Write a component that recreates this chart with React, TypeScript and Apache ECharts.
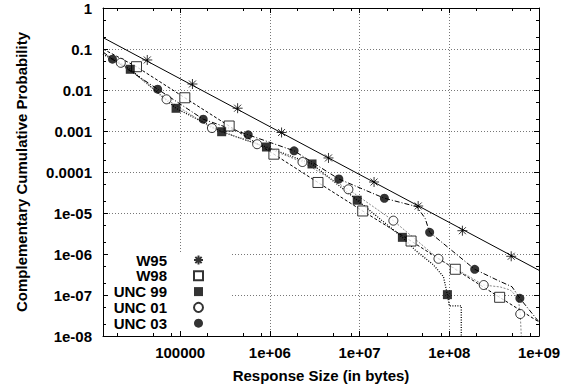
import React, { useEffect, useRef } from 'react';
import * as echarts from 'echarts';

const X_MIN = 13800;
const X_MAX = 1e9;
const Y_MIN = 1e-8;
const Y_MAX = 1;

const xTickExp = [5, 6, 7, 8, 9];
const xTickLabels = ['100000', '1e+06', '1e+07', '1e+08', '1e+09'];
const yTickExp = [0, -1, -2, -3, -4, -5, -6, -7, -8];
const yTickLabels = ['1', '0.1', '0.01', '0.001', '0.0001', '1e-05', '1e-06', '1e-07', '1e-08'];
const xMinorTicks = [2e4, 5e4, 8e4, 2e5, 5e5, 8e5, 2e6, 5e6, 8e6, 2e7, 5e7, 8e7, 2e8, 5e8, 8e8];
const yMinorTicks = [2e-8, 5e-8, 2e-7, 5e-7, 2e-6, 5e-6, 2e-5, 5e-5, 2e-4, 5e-4, 2e-3, 5e-3, 2e-2, 5e-2, 2e-1, 5e-1];

const seriesNames = ['W95', 'W98', 'UNC 99', 'UNC 01', 'UNC 03'];

// W95
const w95MarkX = [43000, 137000, 437000, 1350000, 4500000, 14500000, 45000000, 140000000, 490000000];
const w95MarkY = [0.054, 0.014, 0.0036, 0.00092, 0.00022, 0.000057, 0.0000148, 0.0000037, 0.00000088];
const w95LineX = [13800, 1000000000];
const w95LineY = [0.19, 0.0000004];

// W98
const w98MarkX = [32600, 112700, 351600, 1109000, 3436000, 10840000, 37500000, 116700000, 364000000];
const w98MarkY = [0.037, 0.00646, 0.001324, 0.000272, 0.0000555, 0.0000112, 0.00000207, 0.000000424, 0.0000000879];
const w98LineX = [13800, 32600, 112700, 351600, 1109000, 3436000, 10840000, 37500000, 116700000, 364000000, 1000000000];
const w98LineY = [0.1, 0.037, 0.00646, 0.001324, 0.000272, 0.0000555, 0.0000112, 0.00000207, 0.000000424, 0.0000000879, 0.000000022];

// UNC 99
const unc99MarkX = [27800, 90000, 290000, 916000, 2950000, 9420000, 30000000, 95300000];
const unc99MarkY = [0.032, 0.00358, 0.00096, 0.000407, 0.000157, 0.0000205, 0.00000255, 0.000000102];
const unc99LineX = [13800, 27800, 90000, 290000, 916000, 2950000, 9420000, 30000000, 41600000, 66700000, 86100000, 95300000, 100000000, 136000000, 136000000];
const unc99LineY = [0.075, 0.032, 0.00358, 0.00096, 0.000407, 0.000157, 0.0000205, 0.00000255, 0.00000125, 0.00000054, 0.000000279, 0.000000102, 0.000000054, 0.000000054, 0.000000001];

// UNC 01
const unc01MarkX = [21800, 70500, 226000, 721000, 2310000, 7500000, 23800000, 75700000, 242000000, 618000000];
const unc01MarkY = [0.046, 0.00593, 0.00118, 0.000476, 0.000175, 0.0000378, 0.0000065, 0.000000764, 0.000000175, 0.0000000344];
const unc01LineX = [13800, 21800, 70500, 226000, 721000, 2310000, 7500000, 23800000, 75700000, 242000000, 370000000, 479000000, 587000000, 618000000, 668000000];
const unc01LineY = [0.08, 0.046, 0.00593, 0.00118, 0.000476, 0.000175, 0.0000378, 0.0000065, 0.000000764, 0.000000175, 0.000000157, 0.000000132, 0.0000000845, 0.0000000344, 0.000000001];

// UNC 03
const unc03MarkX = [17600, 56100, 180700, 573000, 1860000, 5870000, 18900000, 60400000, 192000000, 612000000];
const unc03MarkY = [0.0564, 0.0105, 0.00194, 0.000807, 0.000329, 0.0000675, 0.0000229, 0.00000338, 0.000000424, 0.000000083];
const unc03LineX = [13800, 17600, 56100, 180700, 573000, 1860000, 5870000, 18900000, 43500000, 53800000, 60400000, 192000000, 340000000, 500000000, 612000000, 1000000000];
const unc03LineY = [0.085, 0.0564, 0.0105, 0.00194, 0.000807, 0.000329, 0.0000675, 0.0000229, 0.0000143, 0.0000074, 0.00000338, 0.000000424, 0.000000232, 0.000000159, 0.000000083, 0.000000022];

const FONT = 'Liberation Sans, Arial, Helvetica, sans-serif';
const textFont = { fontFamily: FONT, fontWeight: 'bold' as const, fontSize: 15, color: '#000' };
const ASTERISK = 'path://M5,0L5,10M0,5L10,5M1.5,1.5L8.5,8.5M8.5,1.5L1.5,8.5';

const pairs = (xs: number[], ys: number[]) => xs.map((x, i) => [x, ys[i]]);

export default function App() {
  const ref = useRef<HTMLDivElement>(null);
  useEffect(() => {
    if (!ref.current) return;
    const chart = echarts.init(ref.current, null, { renderer: 'svg' });

    const xFmt = (v: number) => {
      const e = Math.round(Math.log10(v));
      const i = xTickExp.indexOf(e);
      return i >= 0 ? xTickLabels[i] : '';
    };
    const yFmt = (v: number) => {
      const e = Math.round(Math.log10(v));
      const i = yTickExp.indexOf(e);
      return i >= 0 ? yTickLabels[i] : '';
    };

    const baseX = { type: 'log' as const, logBase: 10, min: X_MIN, max: X_MAX, gridIndex: 0 };
    const baseY = { type: 'log' as const, logBase: 10, min: Y_MIN, max: Y_MAX, gridIndex: 0 };
    const grid = { show: false, splitLine: { show: false } };
    const axLine = { show: true, lineStyle: { color: '#000', width: 1 } };
    const majTick = { show: true, inside: true, length: 5, lineStyle: { color: '#000', width: 1 } };
    const splitStyle = { show: true, lineStyle: { color: '#777', width: 1, type: [1, 2] } };

    const tickData: number[][] = [
      ...xMinorTicks.map((v) => [v, Y_MIN, 0]),
      ...yMinorTicks.map((v) => [X_MIN, v, 1]),
    ];

    const lineSeries = (name: string, xs: number[], ys: number[], style: any) => ({
      name: name + ' curve',
      type: 'line',
      data: pairs(xs, ys),
      symbol: 'none',
      clip: true,
      z: 2,
      lineStyle: style,
      silent: true,
    });
    const markSeries = (name: string, xs: number[], ys: number[], symbol: string, size: number, item: any) => ({
      name,
      type: 'scatter',
      data: pairs(xs, ys),
      symbol,
      symbolSize: size,
      itemStyle: item,
      z: 3,
      silent: true,
    });

    chart.setOption({
      animation: false,
      backgroundColor: '#fff',
      grid: { left: 103, right: 28, top: 8, bottom: 51, containLabel: false, outerBoundsMode: 'none' },
      xAxis: [
        { ...baseX, position: 'bottom', z: 0, axisLine: { show: false }, axisTick: { show: false }, axisLabel: { show: false }, splitLine: splitStyle },
        {
          ...baseX, position: 'bottom', z: 4, axisLine: axLine, axisTick: majTick,
          axisLabel: { show: true, margin: 9, formatter: xFmt, showMinLabel: false, showMaxLabel: true, ...textFont },
          splitLine: { show: false },
          name: 'Response Size (in bytes)', nameLocation: 'middle', nameGap: 32, nameTextStyle: textFont,
        },
        { ...baseX, position: 'top', z: 4, axisLine: axLine, axisTick: majTick, axisLabel: { show: false }, splitLine: { show: false } },
      ],
      yAxis: [
        { ...baseY, position: 'left', z: 0, axisLine: { show: false }, axisTick: { show: false }, axisLabel: { show: false }, splitLine: splitStyle },
        {
          ...baseY, position: 'left', z: 4, axisLine: axLine, axisTick: majTick,
          axisLabel: { show: true, margin: 11, formatter: yFmt, ...textFont },
          splitLine: { show: false },
          name: 'Complementary Cumulative Probability', nameLocation: 'middle', nameGap: 74, nameTextStyle: textFont,
        },
        { ...baseY, position: 'right', z: 4, axisLine: axLine, axisTick: majTick, axisLabel: { show: false }, splitLine: { show: false } },
      ],
      legend: {
        data: seriesNames,
        orient: 'vertical',
        align: 'right',
        right: 363,
        top: 252.5,
        padding: 0,
        itemWidth: 9,
        itemHeight: 9,
        itemGap: 0.8,
        selectedMode: false,
        textStyle: { ...textFont, lineHeight: 15, padding: [0, 22, 0, 0] },
      },
      graphic: [
        { type: 'rect', z: 1, silent: true, shape: { x: 104, y: 252, width: 126, height: 83 }, style: { fill: '#fff' } },
      ],
      series: [
        {
          name: 'minor ticks',
          type: 'custom',
          xAxisIndex: 0,
          yAxisIndex: 0,
          z: 5,
          silent: true,
          data: tickData,
          renderItem: (params: any, api: any) => {
            const kind = api.value(2);
            const style = { stroke: '#000', lineWidth: 1 };
            if (kind === 0) {
              const b = api.coord([api.value(0), Y_MIN]);
              const t = api.coord([api.value(0), Y_MAX]);
              const x = Math.round(b[0]) + 0.5;
              return {
                type: 'group',
                children: [
                  { type: 'line', shape: { x1: x, y1: b[1], x2: x, y2: b[1] - 3 }, style },
                  { type: 'line', shape: { x1: x, y1: t[1], x2: x, y2: t[1] + 3 }, style },
                ],
              };
            }
            const l = api.coord([X_MIN, api.value(1)]);
            const r = api.coord([X_MAX, api.value(1)]);
            const y = Math.round(l[1]) + 0.5;
            return {
              type: 'group',
              children: [
                { type: 'line', shape: { x1: l[0], y1: y, x2: l[0] + 3, y2: y }, style },
                { type: 'line', shape: { x1: r[0], y1: y, x2: r[0] - 3, y2: y }, style },
              ],
            };
          },
        },
        lineSeries('W95', w95LineX, w95LineY, { color: '#000', width: 1, type: 'solid' }),
        lineSeries('W98', w98LineX, w98LineY, { color: '#000', width: 1, type: [3, 2] }),
        lineSeries('UNC 99', unc99LineX, unc99LineY, { color: '#000', width: 1.3, type: [1, 1.5] }),
        lineSeries('UNC 01', unc01LineX, unc01LineY, { color: '#888', width: 1, type: [2, 1.5] }),
        lineSeries('UNC 03', unc03LineX, unc03LineY, { color: '#000', width: 1, type: [5, 2, 1, 2] }),
        markSeries('W95', w95MarkX, w95MarkY, ASTERISK, 10, { color: '#000', borderColor: '#000', borderWidth: 1 }),
        markSeries('W98', w98MarkX, w98MarkY, 'rect', 10, { color: '#fff', borderColor: '#000', borderWidth: 1 }),
        markSeries('UNC 99', unc99MarkX, unc99MarkY, 'rect', 9, { color: '#000' }),
        markSeries('UNC 01', unc01MarkX, unc01MarkY, 'circle', 9, { color: '#fff', borderColor: '#000', borderWidth: 1 }),
        markSeries('UNC 03', unc03MarkX, unc03MarkY, 'circle', 9, { color: '#000' }),
      ],
    });
    return () => chart.dispose();
  }, []);
  return (
    <div
      ref={ref}
      style={{ position: 'fixed', left: 0, top: 0, width: 567, height: 387, background: '#fff' }}
    />
  );
}
